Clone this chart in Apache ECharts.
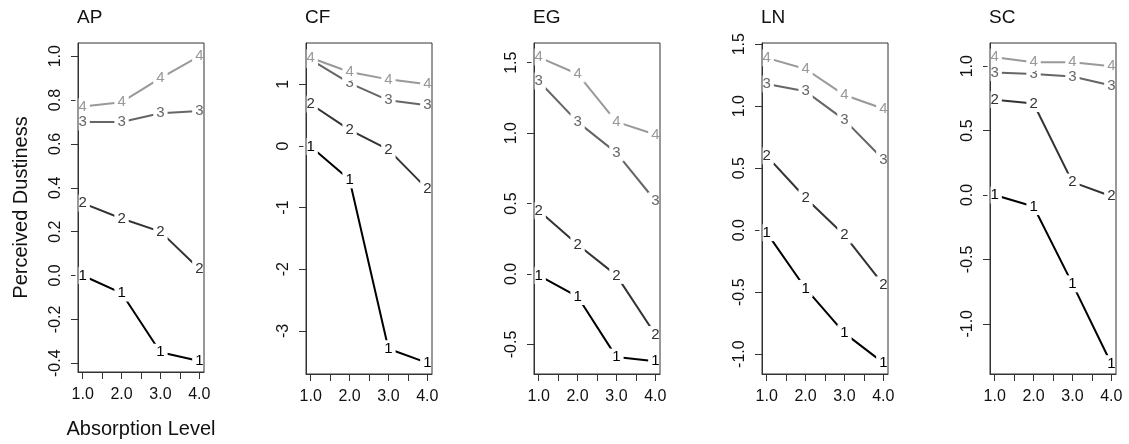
<!DOCTYPE html>
<html>
<head>
<meta charset="utf-8">
<script src="https://cdn.jsdelivr.net/npm/echarts@6/dist/echarts.min.js"></script>
<style>
html,body{margin:0;padding:0;background:#fff;}
#chart{width:1129px;height:444px;}
</style>
</head>
<body>
<div id="chart"></div>
<script>
// ---- data ----
const panelNames = ['AP', 'CF', 'EG', 'LN', 'SC'];
const levels = [1, 2, 3, 4];
const groupNames = ['1', '2', '3', '4'];

// each panel: values for group 1..4 at absorption levels 1..4
const AP = [
  [0.00, -0.08, -0.35, -0.39],
  [0.33, 0.26, 0.20, 0.03],
  [0.70, 0.70, 0.74, 0.75],
  [0.77, 0.79, 0.90, 1.00]
];
const CF = [
  [-0.01, -0.55, -3.29, -3.52],
  [0.68, 0.26, -0.06, -0.70],
  [1.40, 1.02, 0.74, 0.66],
  [1.43, 1.20, 1.08, 1.00]
];
const EG = [
  [-0.01, -0.16, -0.59, -0.62],
  [0.45, 0.21, -0.01, -0.43],
  [1.37, 1.08, 0.86, 0.52],
  [1.54, 1.42, 1.08, 0.99]
];
const LN = [
  [-0.02, -0.47, -0.83, -1.07],
  [0.60, 0.26, -0.04, -0.44],
  [1.18, 1.12, 0.89, 0.57],
  [1.39, 1.30, 1.09, 0.98]
];
const SC = [
  [0.00, -0.09, -0.69, -1.31],
  [0.74, 0.71, 0.10, -0.01],
  [0.95, 0.94, 0.92, 0.85],
  [1.07, 1.03, 1.03, 1.00]
];
const panelData = [AP, CF, EG, LN, SC];

// axis settings
const xTicks = [1, 1.5, 2, 2.5, 3, 3.5, 4];
const xTickLabels = [1, 2, 3, 4];
const yMin = [-0.44, -3.70, -0.71, -1.16, -1.39];
const yMax = [1.06, 1.67, 1.64, 1.51, 1.18];
const yTicksAP = [-0.4, -0.2, 0, 0.2, 0.4, 0.6, 0.8, 1.0];
const yTicksCF = [-3, -2, -1, 0, 1];
const yTicksEG = [-0.5, 0, 0.5, 1.0, 1.5];
const yTicksLN = [-1.0, -0.5, 0, 0.5, 1.0, 1.5];
const yTicksSC = [-1.0, -0.5, 0, 0.5, 1.0];
const yTicks = [yTicksAP, yTicksCF, yTicksEG, yTicksLN, yTicksSC];
const yDecimals = [1, 0, 1, 1, 1];

// ---- styling ----
const FONT = '"Liberation Sans", Arial, Helvetica, sans-serif';
const lineColors = ['#000000', '#333333', '#666666', '#999999'];
const textColor = '#111111';

const chart = echarts.init(document.getElementById('chart'), null, {renderer: 'canvas'});

const grids = [], xAxes = [], yAxes = [], titles = [], series = [];
panelNames.forEach((name, i) => {
  const left = 78 + 228 * i;
  grids.push({left: left, top: 43, width: 126, height: 331, show: true, z: 20,
    borderColor: '#333', borderWidth: 1, backgroundColor: 'transparent', containLabel: false});
  titles.push({text: name, left: left - 1, top: 8, padding: 0,
    textStyle: {fontFamily: FONT, fontSize: 19, fontWeight: 'normal', color: textColor}});
  xAxes.push({
    type: 'value', gridIndex: i, min: 0.88, max: 4.12, position: 'bottom',
    axisLine: {show: true, onZero: false, lineStyle: {color: '#333', width: 1}},
    axisTick: {show: true, length: 7, inside: false, customValues: xTicks,
      lineStyle: {color: '#333', width: 1}},
    axisLabel: {show: true, customValues: xTickLabels, margin: 15,
      formatter: v => Number(v).toFixed(1),
      fontFamily: FONT, fontSize: 16, color: textColor},
    splitLine: {show: false},
    name: i === 0 ? 'Absorption Level' : '',
    nameLocation: 'middle', nameGap: 47,
    nameTextStyle: {fontFamily: FONT, fontSize: 20, color: textColor}
  });
  yAxes.push({
    type: 'value', gridIndex: i, min: yMin[i], max: yMax[i], position: 'left',
    axisLine: {show: true, onZero: false, lineStyle: {color: '#333', width: 1}},
    axisTick: {show: true, length: 7, inside: false, customValues: yTicks[i],
      lineStyle: {color: '#333', width: 1}},
    axisLabel: {show: true, customValues: yTicks[i], rotate: 90, margin: 14,
      formatter: v => Number(v).toFixed(yDecimals[i]),
      fontFamily: FONT, fontSize: 16, color: textColor},
    splitLine: {show: false},
    name: i === 0 ? 'Perceived Dustiness' : '',
    nameLocation: 'middle', nameGap: 47,
    nameTextStyle: {fontFamily: FONT, fontSize: 20, color: textColor}
  });
  panelData[i].forEach((vals, g) => {
    series.push({
      type: 'line', xAxisIndex: i, yAxisIndex: i,
      data: levels.map((x, k) => [x, vals[k]]),
      symbol: 'circle', symbolSize: 1, showSymbol: true,
      itemStyle: {color: 'rgba(0,0,0,0)'},
      lineStyle: {color: lineColors[g], width: 2},
      label: {show: true, position: 'inside', formatter: groupNames[g],
        fontFamily: FONT, fontSize: 15, color: lineColors[g],
        backgroundColor: '#ffffff', padding: [1, 3]},
      emphasis: {disabled: true},
      silent: true, animation: false, z: 2 + g
    });
  });
});

chart.setOption({
  backgroundColor: '#ffffff',
  animation: false,
  title: titles,
  grid: grids,
  xAxis: xAxes,
  yAxis: yAxes,
  series: series
});
</script>
</body>
</html>
